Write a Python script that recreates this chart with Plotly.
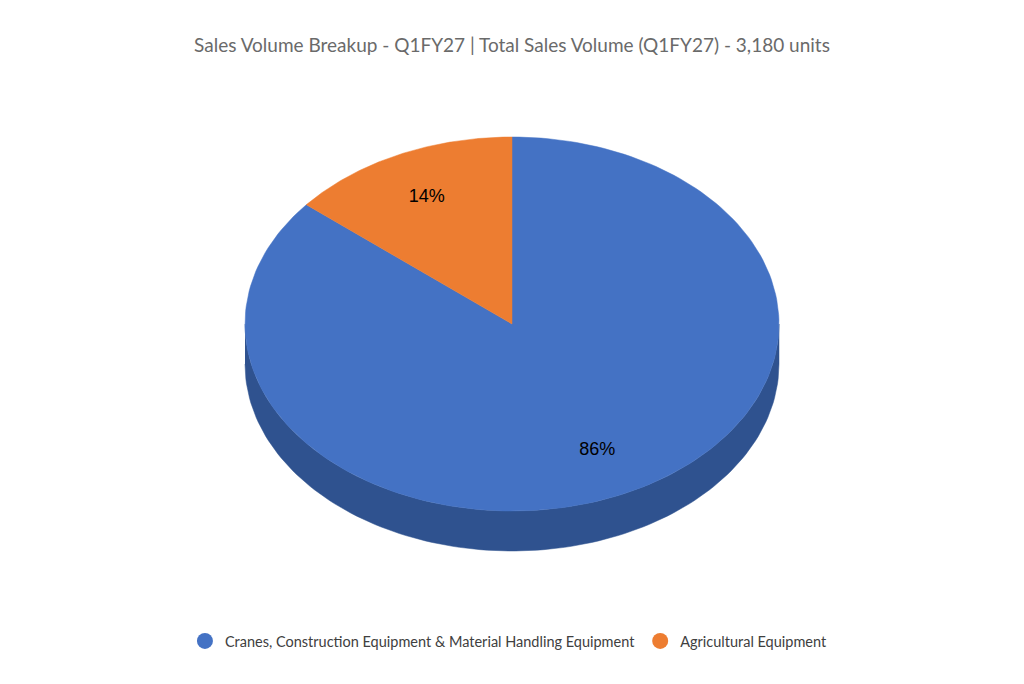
import numpy as np
import plotly.graph_objects as go

# data
categories = ['Cranes, Construction Equipment & Material Handling Equipment',
              'Agricultural Equipment']
units = [2735, 445]
title_text = 'Sales Volume Breakup - Q1FY27 | Total Sales Volume (Q1FY27) - 3,180 units'

colors = {'blue': '#4472C4', 'orange': '#ED7D31'}
side_colors = {'blue': '#2F528F', 'orange': '#AE5A21'}
slice_colors = ['blue', 'orange']

# tilted pie geometry (pixel-like axis units)
W, H = 1024, 684
cx, cy = 512, 324
rx, ry = 267, 187
depth = 40
label_r = 0.75

shares = np.array(units) / np.sum(units)
cum = np.concatenate([[0], np.cumsum(shares)])


def ell(t, dy=0):
    t = np.radians(t)
    return cx + rx * np.cos(t), cy - ry * np.sin(t) + dy


fig = go.Figure()

# side walls first (only the front half, sin(t) < 0, is visible)
for i, c in enumerate(slice_colors):
    a = 90 - 360 * cum[i + 1]
    b = 90 - 360 * cum[i]
    for k in range(-2, 2):
        lo = max(a, 180 + 360 * k)
        hi = min(b, 360 + 360 * k)
        if hi <= lo:
            continue
        t = np.linspace(lo, hi, 120)
        x1, y1 = ell(t)
        x2, y2 = ell(t[::-1], depth)
        fig.add_trace(go.Scatter(
            x=np.concatenate([x1, x2]), y=np.concatenate([y1, y2]),
            fill='toself', fillcolor=side_colors[c], mode='lines',
            line=dict(width=0.5, color=side_colors[c]),
            hoverinfo='skip', showlegend=False))

# top faces, clockwise from 12 o'clock
for i, (name, c) in enumerate(zip(categories, slice_colors)):
    t = np.linspace(90 - 360 * cum[i], 90 - 360 * cum[i + 1], 200)
    x, y = ell(t)
    fig.add_trace(go.Scatter(
        x=np.concatenate([[cx], x, [cx]]), y=np.concatenate([[cy], y, [cy]]),
        fill='toself', fillcolor=colors[c], mode='lines',
        line=dict(width=0.5, color=colors[c]),
        name=name, hoverinfo='name', showlegend=False))

# percentage labels at mid-angle
mids = 90 - 360 * (cum[:-1] + cum[1:]) / 2
lx = cx + label_r * rx * np.cos(np.radians(mids))
ly = cy - label_r * ry * np.sin(np.radians(mids))
fig.add_trace(go.Scatter(
    x=lx, y=ly, mode='text',
    text=['{:.0f}%'.format(s * 100) for s in shares],
    textfont=dict(family='Liberation Sans, Arial', size=18, color='black'),
    hoverinfo='skip', showlegend=False))

# legend entries with round markers
for name, c in zip(categories, slice_colors):
    fig.add_trace(go.Scatter(
        x=[None], y=[None], mode='markers', name=name,
        marker=dict(symbol='circle', size=16, color=colors[c])))

fig.update_layout(
    width=W, height=H,
    margin=dict(l=0, r=0, t=0, b=0),
    plot_bgcolor='white', paper_bgcolor='white',
    title=dict(text=title_text, x=0.5, xanchor='center',
               y=1 - 45 / H, yanchor='middle',
               font=dict(family='Lato', size=19, color='#6a6a6a')),
    legend=dict(orientation='h', x=0.497, xanchor='center',
                y=1 - 641 / H, yanchor='middle',
                font=dict(family='Lato', size=14.5, color='#404040')),
)
fig.update_xaxes(range=[0, W], visible=False, fixedrange=True)
fig.update_yaxes(range=[H, 0], visible=False, fixedrange=True)

# drop the default page margin so the figure sits at the window corner
fig.write_html('out.html', config={'displayModeBar': False},
               post_script="document.body.style.margin='0px';")
